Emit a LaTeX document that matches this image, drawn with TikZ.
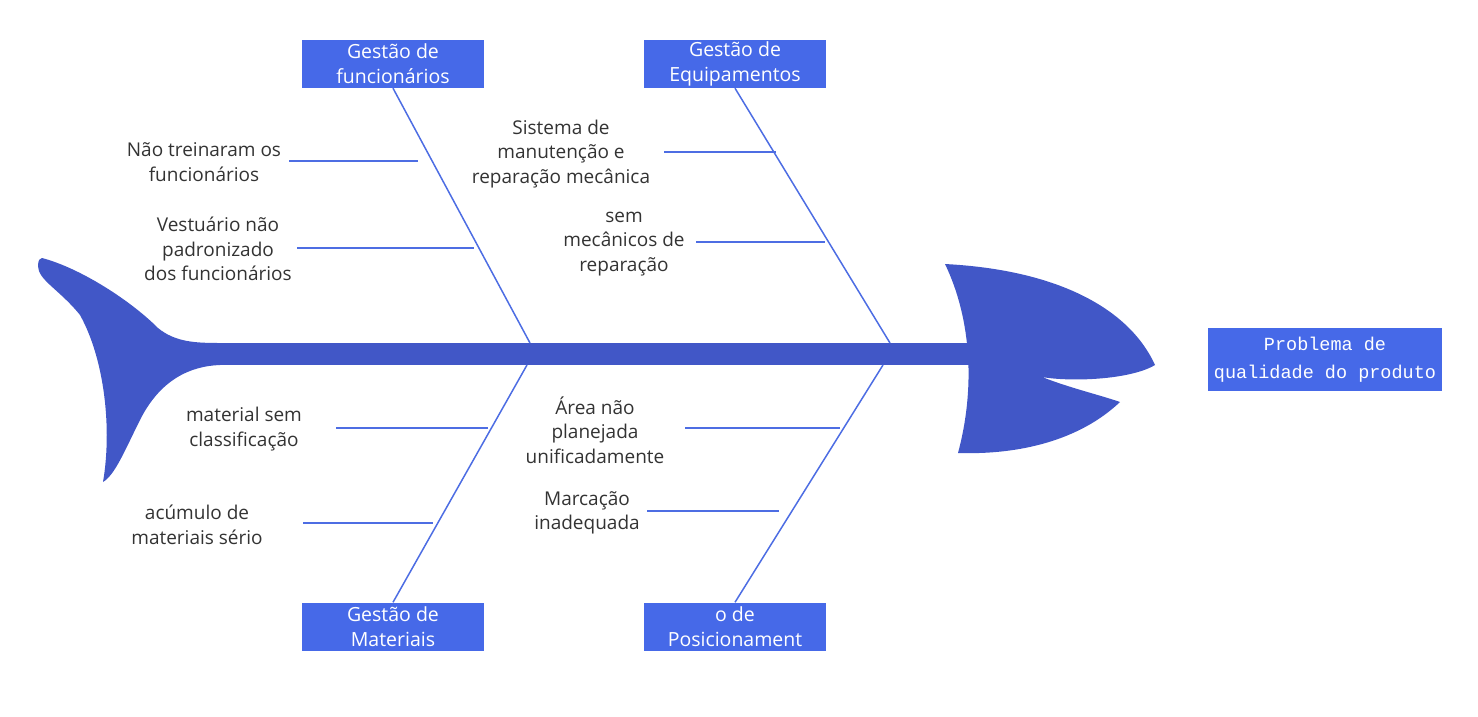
\documentclass[tikz,border=0pt]{standalone}
\usepackage{fontspec}
\setmainfont{Open Sans}
\newfontfamily\probfont{Liberation Mono}
\usetikzlibrary{positioning}
\definecolor{fishblue}{HTML}{4157C7}
\definecolor{boxblue}{HTML}{4669E8}
\definecolor{bonecol}{HTML}{4D6DE3}
\definecolor{txtcol}{HTML}{333333}
\tikzset{
  cat/.style={fill=boxblue,text=white,minimum width=182pt,minimum height=48pt,inner sep=0pt,align=center,font=\fontsize{19.5}{25}\selectfont},
  cause/.style={text=txtcol,align=center,font=\fontsize{19}{24.5}\selectfont},
  bone/.style={bonecol,line width=1.5pt},
}
\begin{document}
\begin{tikzpicture}[x=1pt,y=-1pt]
\useasboundingbox (0,0) rectangle (1478,716);

% tail
\fill[fishblue] (42,258) .. controls (80,268) and (130,300) .. (158,328)
  .. controls (175,342) and (195,343) .. (220,343) -- (220,365)
  .. controls (190,366) and (160,380) .. (140,420)
  .. controls (125,450) and (115,475) .. (103,482)
  .. controls (112,430) and (105,360) .. (80,315)
  .. controls (60,290) and (38,280) .. (38,266)
  .. controls (38,260) and (40,258) .. (42,258) -- cycle;
% spine
\fill[fishblue] (215,343) rectangle (975,365);
% head
\fill[fishblue] (945,264) .. controls (1060,270) and (1130,310) .. (1155,365)
  .. controls (1130,380) and (1070,382) .. (1042,377)
  .. controls (1070,388) and (1100,395) .. (1120,402)
  .. controls (1080,440) and (1020,455) .. (958,453)
  .. controls (975,390) and (972,320) .. (945,264) -- cycle;

\node[cat,font=\probfont\fontsize{18.5}{28}\selectfont,minimum width=234pt,minimum height=63pt] (prob) at (1325,359.5) {Problema de\\qualidade do produto};

\node[cat] (func) at (393,64) {Gestão de\\funcionários};
\node[cat] (equip) at (735,64) {Gestão de\\Equipamentos};
\node[cat] (mat) at (393,626.5) {Gestão de\\Materiais};
\node[cat] (pos) at (735,626.5) {o de\\Posicionament};

\coordinate (sp1) at (530,343);
\coordinate (sp2) at (890,343);
\coordinate (sp3) at (527,365);
\coordinate (sp4) at (883,365);

\draw[bone] (func.south) -- (sp1);
\draw[bone] (equip.south) -- (sp2);
\draw[bone] (mat.north) -- (sp3);
\draw[bone] (pos.north) -- (sp4);

% causes
\node[cause] (c1) at (204,162) {Não treinaram os\\funcionários};
\node[cause] (c2) at (218,249) {Vestuário não\\padronizado\\dos funcionários};
\node[cause] (c3) at (561,154) {Sistema de\\manutenção e\\reparação mecânica};
\node[cause] (c4) at (624,244) {sem\\mecânicos de\\reparação};
\node[cause] (c5) at (244,429) {material sem\\classificação};
\node[cause] (c6) at (197,525) {acúmulo de\\materiais sério};
\node[cause] (c7) at (595,430) {Área não\\planejada\\unificadamente};
\node[cause] (c8) at (587,513) {Marcação\\inadequada};

\coordinate (b1) at (418,161);
\coordinate (b2) at (474,248);
\coordinate (b3) at (776,152);
\coordinate (b4) at (825,242);
\coordinate (b5) at (488,428);
\coordinate (b6) at (433,523);
\coordinate (b7) at (840,428);
\coordinate (b8) at (779,511);

\draw[bone] (289,161) -- (b1);
\draw[bone] (297,248) -- (b2);
\draw[bone] (664,152) -- (b3);
\draw[bone] (696,242) -- (b4);
\draw[bone] (336,428) -- (b5);
\draw[bone] (303,523) -- (b6);
\draw[bone] (685,428) -- (b7);
\draw[bone] (647,511) -- (b8);
\end{tikzpicture}
\end{document}
